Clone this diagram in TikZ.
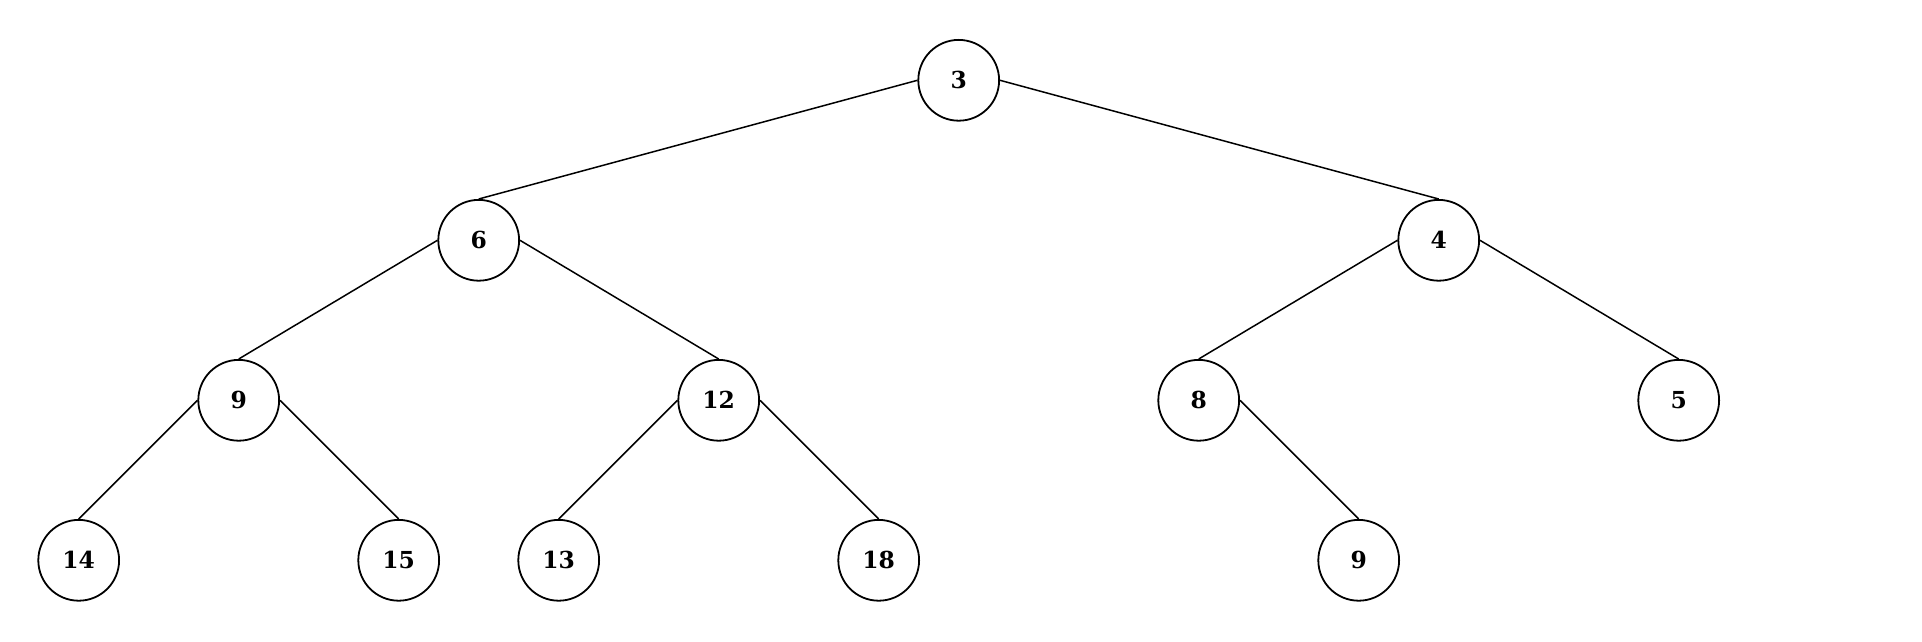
\documentclass[tikz,border=0pt]{standalone}
\usepackage{fontspec}
\setmainfont{DejaVu Serif}
\usetikzlibrary{positioning}

\begin{document}
\begin{tikzpicture}[
  x=0.5pt, y=-0.5pt,
  font=\fontsize{11.7}{14}\selectfont\bfseries,
  node distance=80pt and 80pt, on grid,
  vert/.style={draw, circle, line width=0.9pt, minimum size=40.4pt, inner sep=0pt},
  edge/.style={line width=0.75pt}
]
\useasboundingbox (0,0) rectangle (1922,642);
\node[vert] (r3) at (958.7,80.3) {3};
\node[vert, below left=80pt and 240pt of r3] (a6) {6};
\node[vert, below right=80pt and 240pt of r3] (a4) {4};
\node[vert, below left=80pt and 120pt of a6] (b9) {9};
\node[vert, below right=80pt and 120pt of a6] (b12) {12};
\node[vert, below left=80pt and 120pt of a4] (b8) {8};
\node[vert, below right=80pt and 120pt of a4] (b5) {5};
\node[vert, below left=80pt and 80pt of b9] (c14) {14};
\node[vert, below right=80pt and 80pt of b9] (c15) {15};
\node[vert, below left=80pt and 80pt of b12] (c13) {13};
\node[vert, below right=80pt and 80pt of b12] (c18) {18};
\node[vert, below right=80pt and 80pt of b8] (c9) {9};
\draw[edge] (r3.west) -- (a6.north);
\draw[edge] (r3.east) -- (a4.north);
\draw[edge] (a6.west) -- (b9.north);
\draw[edge] (a6.east) -- (b12.north);
\draw[edge] (a4.west) -- (b8.north);
\draw[edge] (a4.east) -- (b5.north);
\draw[edge] (b9.west) -- (c14.north);
\draw[edge] (b9.east) -- (c15.north);
\draw[edge] (b12.west) -- (c13.north);
\draw[edge] (b12.east) -- (c18.north);
\draw[edge] (b8.east) -- (c9.north);
\end{tikzpicture}
\end{document}
